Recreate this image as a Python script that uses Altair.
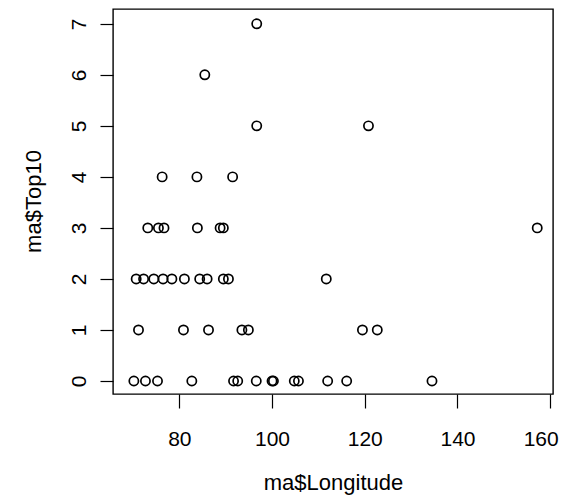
import altair as alt
import pandas as pd

longitude_0 = [70.2, 72.7, 75.3, 82.7, 91.7, 92.6, 96.6, 100.0, 100.3, 104.8, 105.7, 112.0, 116.1, 134.5]
longitude_1 = [71.2, 80.9, 86.3, 93.5, 94.9, 119.5, 122.7]
longitude_2 = [70.7, 72.3, 74.5, 76.5, 78.4, 81.1, 84.4, 86.0, 89.5, 90.6, 111.7]
longitude_3 = [73.2, 75.5, 76.7, 83.9, 88.8, 89.5, 157.2]
longitude_4 = [76.3, 83.8, 91.5]
longitude_5 = [96.7, 120.8]
longitude_6 = [85.5]
longitude_7 = [96.7]

x_ticks = [80, 100, 120, 140, 160]
y_ticks = [0, 1, 2, 3, 4, 5, 6, 7]

groups = [longitude_0, longitude_1, longitude_2, longitude_3,
          longitude_4, longitude_5, longitude_6, longitude_7]
rows = []
for top10, lons in enumerate(groups):
    for lon in lons:
        rows.append({"Longitude": lon, "Top10": top10})
df = pd.DataFrame(rows)

FONT = "Liberation Sans"

chart = alt.Chart(df).mark_point(
    shape="circle", filled=False, color="black", size=85, strokeWidth=1.7, opacity=1
).encode(
    x=alt.X("Longitude:Q", scale=alt.Scale(domain=[65.7, 160.6], nice=False, zero=False),
            axis=alt.Axis(values=x_ticks, title="ma$Longitude", grid=False, domain=False,
                          tickSize=14, tickColor="black", tickWidth=1.2,
                          labelFont=FONT, labelFontSize=21, labelColor="black",
                          labelBaseline="alphabetic", labelPadding=37,
                          labelFlush=10, labelFlushOffset=8,
                          titleFont=FONT, titleFontSize=22, titleFontWeight="normal",
                          titleColor="black", titleBaseline="alphabetic",
                          titleAnchor="middle", titleY=95)),
    y=alt.Y("Top10:Q", scale=alt.Scale(domain=[-0.255, 7.29], nice=False, zero=False),
            axis=alt.Axis(values=y_ticks, title="ma$Top10", grid=False, domain=False,
                          tickSize=13, tickColor="black", tickWidth=1.2,
                          labelFont=FONT, labelFontSize=21, labelColor="black",
                          labelAngle=270, labelAlign="center", labelBaseline="alphabetic",
                          labelPadding=15,
                          titleFont=FONT, titleFontSize=22, titleFontWeight="normal",
                          titleColor="black", titleAngle=270, titleAlign="center",
                          titleBaseline="alphabetic", titleX=-73, titleY=192)),
).properties(
    width=440, height=385,
    background="white",
    autosize=alt.AutoSizeParams(type="none"),
    padding={"left": 105, "top": 1, "right": 9, "bottom": 101},
).configure_view(
    stroke="black", strokeWidth=1.4, fill="white"
)

chart.save("out.html", embed_options={"renderer": "svg", "actions": False})
